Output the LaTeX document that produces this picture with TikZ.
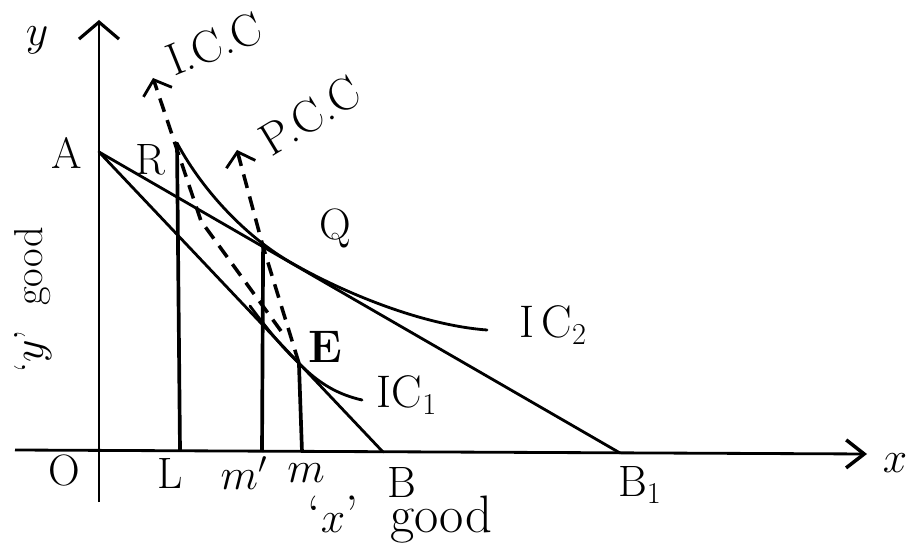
\documentclass[tikz,border=0pt]{standalone}
\usetikzlibrary{arrows.meta,calc}
\begin{document}
\begin{tikzpicture}[x=0.02cm,y=-0.02cm,
  axisln/.style={line width=1.6pt},
  ln/.style={line width=1.6pt, line cap=round},
  vl/.style={line width=2.1pt},
  dsh/.style={line width=2pt, dash pattern=on 8pt off 5pt},
  bigtip/.style={-{Straight Barb[length=3.4mm,width=8mm,line width=1.8pt]}},
  xtip/.style={-{Straight Barb[length=3.6mm,width=5.6mm,line width=2pt]}},
  smalltip/.style={-{Straight Barb[length=2.6mm,width=6mm,line width=1.6pt]}},
  lbl/.style={font=\fontsize{25}{29}\selectfont, inner sep=0pt},
  blbl/.style={font=\fontsize{26}{30}\selectfont, inner sep=0pt}]
\useasboundingbox (0,0) rectangle (918,546);
% key points
\coordinate (ybot) at (99,502);
\coordinate (ytop) at (99,20);
\coordinate (xl) at (15,450);
\coordinate (xr) at (867,454);
\coordinate (A) at (99,152);
\coordinate (B) at (383,452);
\coordinate (B1) at (620,453);
\coordinate (Lp) at (180,451);
\coordinate (Ltop) at (177,143);
\coordinate (mp) at (262,452);
\coordinate (m) at (302,452);
\coordinate (Q) at ($(A)!0.315!(B1)$);
\coordinate (E) at ($(A)!0.704!(B)$);
\coordinate (IC2end) at (487,330);
\coordinate (IC1beg) at (250,306);
\coordinate (IC1end) at (362,400);
\coordinate (ICCtop) at (153,78);
\coordinate (ICCbend) at (201,221);
\coordinate (ICCbot) at (281,331);
\coordinate (PCCtop) at (237,150);
% axes
\draw[axisln, bigtip] (ybot) -- (ytop);
\draw[axisln, xtip] (xl) -- (xr);
% budget lines
\draw[ln] (A) -- (B);
\draw[ln] (A) -- (B1);
% verticals
\draw[vl] (Lp) -- (Ltop);
\draw[vl] (mp) -- (Q);
\draw[vl] (m) -- (E);
% indifference curves
\draw[ln] (Ltop) .. controls (205,195) and (250,239) .. (290,262)
  .. controls (340,291) and (420,325) .. (IC2end);
\draw[ln] (IC1beg) .. controls (270,333) and (285,350) .. (E)
  .. controls (320,385) and (340,395) .. (IC1end);
% ICC and PCC
\draw[dsh, smalltip] (ICCbot) -- (ICCbend) -- (ICCtop);
\draw[dsh, smalltip] (E) -- (Q) -- (PCCtop);
% labels
\node[blbl] (ly) at (37,40) {$y$};
\node[lbl] (lA) at (67,153) {A};
\node[lbl] (lR) at (150,160) {R};
\node[lbl] (lQ) at (335,228) {Q};
\node[blbl] (lE) at (325,347) {\bfseries E};
\node[blbl, rotate=22] (lICC) at (214,44) {I.C.C};
\node[blbl, rotate=31] (lPCC) at (310,116) {P.C.C};
\node[blbl] (lIC1) at (407,395) {IC$_1$};
\node[blbl] (lIC2) at (553,325) {I\,C$_2$};
\node[lbl] (lO) at (64,470) {O};
\node[lbl] (lL) at (170,473) {L};
\node[blbl] (lmp) at (244,473) {$m'$};
\node[blbl] (lm) at (306,473) {$m$};
\node[lbl] (lB) at (402,482) {B};
\node[lbl] (lB1) at (640,485) {B$_1$};
\node[blbl] (lx) at (895,463) {$x$};
\node[blbl, font=\fontsize{30}{34}\selectfont] (lxg) at (400,520) {`$x$'\ \ good};
\node[lbl, font=\fontsize{23}{27}\selectfont, rotate=90] (lyg) at (33,300) {`$y$'\ \ good};
\end{tikzpicture}
\end{document}
